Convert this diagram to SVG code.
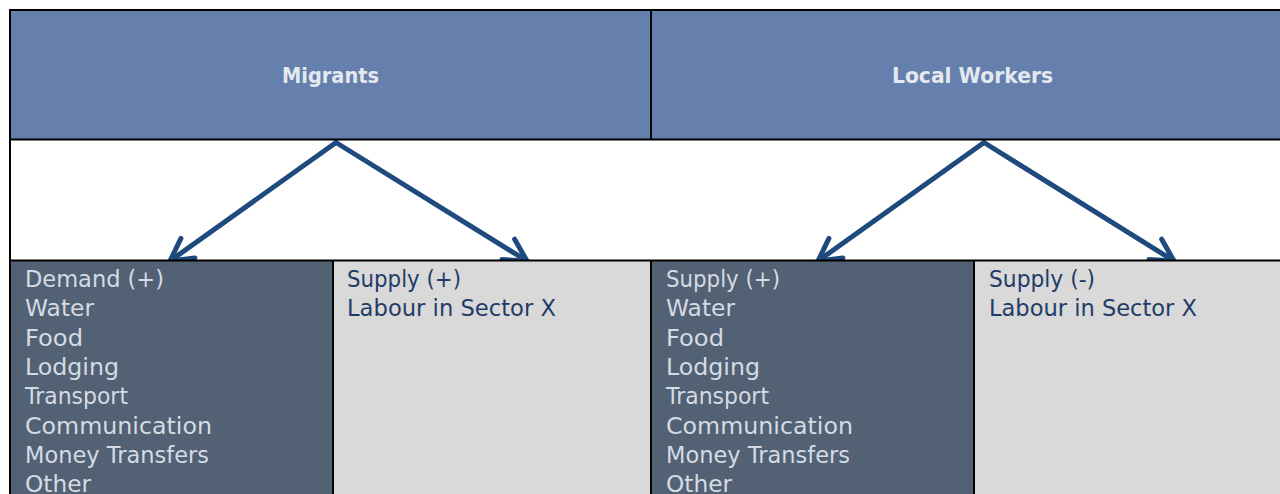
<svg xmlns="http://www.w3.org/2000/svg" width="1280" height="494" viewBox="0 0 1280 494">
<defs>
<marker id="chev" markerUnits="userSpaceOnUse" markerWidth="40" markerHeight="40" viewBox="-30 -20 40 40" refX="0" refY="0" orient="auto" overflow="visible">
<path d="M -22 -12 L 0 0 L -22 12" fill="none" stroke="#1F4A7E" stroke-width="5" stroke-linecap="round" stroke-linejoin="round"/>
</marker>
</defs>
<style>
.hdr{fill:#6580AD}
.dark{fill:#536175}
.light{fill:#D9D9D9}
.border{stroke:#000;stroke-width:2;fill:none}
.htxt{font-family:"DejaVu Sans","Liberation Sans",sans-serif;font-weight:bold;font-size:22px;fill:#E4E8EF;text-anchor:middle}
.dtxt{font-family:"DejaVu Sans","Liberation Sans",sans-serif;font-size:23px;fill:#D5DBE3}
.ltxt{font-family:"DejaVu Sans","Liberation Sans",sans-serif;font-size:23px;fill:#1F3C68}
.conn{stroke:#1F4A7E;stroke-width:5;stroke-linecap:round;fill:none;marker-end:url(#chev)}
</style>
<rect x="0" y="0" width="1280" height="494" fill="#FFFFFF"/>
<g id="header-migrants">
<rect class="hdr" x="10" y="10" width="641" height="130"/>
<text class="htxt" x="330.5" y="83" textLength="97" lengthAdjust="spacingAndGlyphs">Migrants</text>
</g>
<g id="header-local">
<rect class="hdr" x="651" y="10" width="640" height="130"/>
<text class="htxt" x="972.5" y="83" textLength="161" lengthAdjust="spacingAndGlyphs">Local Workers</text>
</g>
<g id="connectors">
<line class="conn" x1="336" y1="142.5" x2="170" y2="261"/>
<line class="conn" x1="336" y1="142.5" x2="527" y2="261"/>
<line class="conn" x1="984" y1="142.5" x2="818" y2="261"/>
<line class="conn" x1="984" y1="142.5" x2="1174" y2="261"/>
</g>
<g id="migrants-demand">
<rect class="dark" x="10" y="261" width="323" height="233"/>
<text class="dtxt" x="25" y="287" textLength="139" lengthAdjust="spacingAndGlyphs">Demand (+)</text>
<text class="dtxt" x="25" y="316.3" textLength="69" lengthAdjust="spacingAndGlyphs">Water</text>
<text class="dtxt" x="25" y="345.6" textLength="58" lengthAdjust="spacingAndGlyphs">Food</text>
<text class="dtxt" x="25" y="374.9" textLength="94" lengthAdjust="spacingAndGlyphs">Lodging</text>
<text class="dtxt" x="25" y="404.2" textLength="103" lengthAdjust="spacingAndGlyphs">Transport</text>
<text class="dtxt" x="25" y="433.5" textLength="187" lengthAdjust="spacingAndGlyphs">Communication</text>
<text class="dtxt" x="25" y="462.8" textLength="184" lengthAdjust="spacingAndGlyphs">Money Transfers</text>
<text class="dtxt" x="25" y="492.1" textLength="66" lengthAdjust="spacingAndGlyphs">Other</text>
</g>
<g id="migrants-supply">
<rect class="light" x="333" y="261" width="318" height="233"/>
<text class="ltxt" x="347" y="287" textLength="114" lengthAdjust="spacingAndGlyphs">Supply (+)</text>
<text class="ltxt" x="347" y="316.3" textLength="209" lengthAdjust="spacingAndGlyphs">Labour in Sector X</text>
</g>
<g id="local-supply-plus">
<rect class="dark" x="651" y="261" width="323" height="233"/>
<text class="dtxt" x="666" y="287" textLength="114" lengthAdjust="spacingAndGlyphs">Supply (+)</text>
<text class="dtxt" x="666" y="316.3" textLength="69" lengthAdjust="spacingAndGlyphs">Water</text>
<text class="dtxt" x="666" y="345.6" textLength="58" lengthAdjust="spacingAndGlyphs">Food</text>
<text class="dtxt" x="666" y="374.9" textLength="94" lengthAdjust="spacingAndGlyphs">Lodging</text>
<text class="dtxt" x="666" y="404.2" textLength="103" lengthAdjust="spacingAndGlyphs">Transport</text>
<text class="dtxt" x="666" y="433.5" textLength="187" lengthAdjust="spacingAndGlyphs">Communication</text>
<text class="dtxt" x="666" y="462.8" textLength="184" lengthAdjust="spacingAndGlyphs">Money Transfers</text>
<text class="dtxt" x="666" y="492.1" textLength="66" lengthAdjust="spacingAndGlyphs">Other</text>
</g>
<g id="local-supply-minus">
<rect class="light" x="974" y="261" width="320" height="233"/>
<text class="ltxt" x="989" y="287" textLength="106" lengthAdjust="spacingAndGlyphs">Supply (-)</text>
<text class="ltxt" x="989" y="316.3" textLength="208" lengthAdjust="spacingAndGlyphs">Labour in Sector X</text>
</g>
<g id="grid">
<path class="border" d="M10,500 L10,10 L1290,10"/>
<path class="border" d="M10,139.5 H1290 M10,260.5 H1290"/>
<path class="border" d="M651,10 V140 M333,260 V500 M651,260 V500 M974,260 V500"/>
</g>
</svg>
